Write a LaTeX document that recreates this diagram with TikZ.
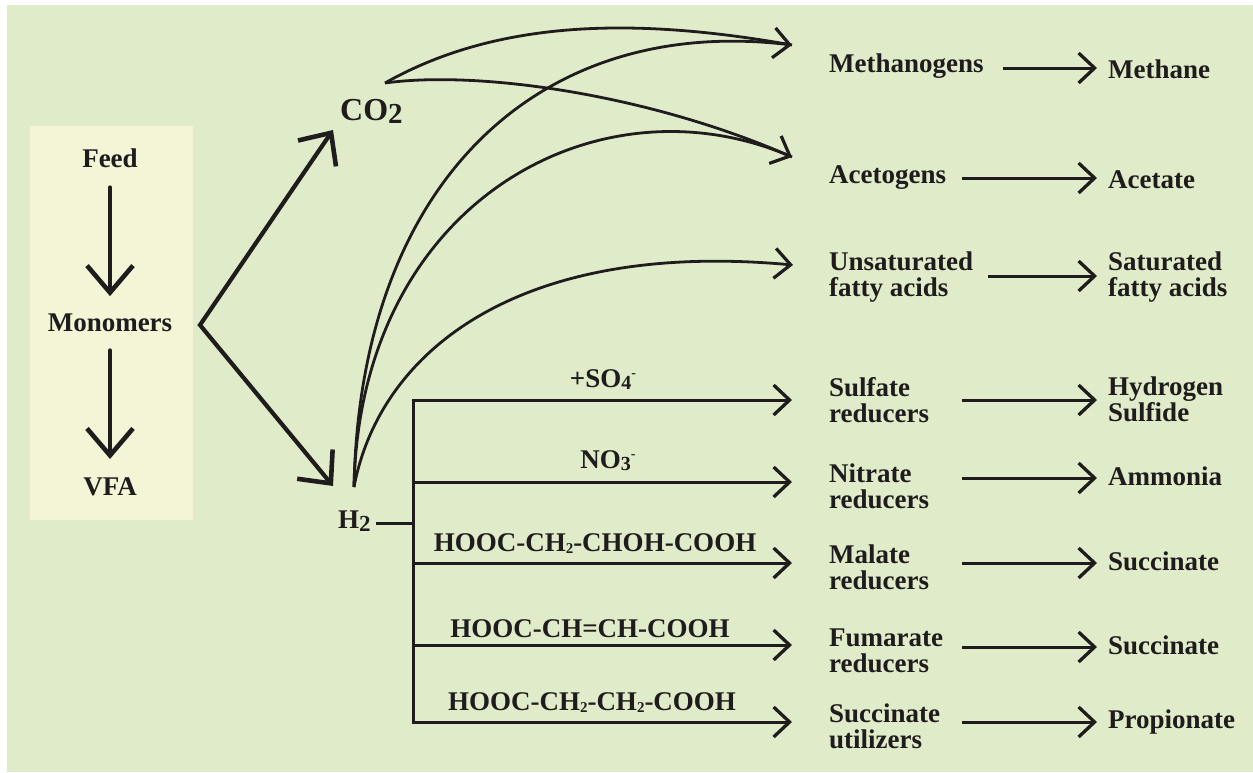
\documentclass[tikz,border=0pt]{standalone}
\usepackage{fontspec}
\setmainfont{Liberation Serif}
\usetikzlibrary{arrows.meta}
\definecolor{bgc}{RGB}{224,235,201}
\definecolor{boxc}{RGB}{243,245,214}
\definecolor{ink}{RGB}{30,28,28}
\newcommand{\subA}[1]{\raisebox{-3.5pt}{\fontsize{23}{23}\selectfont #1}}
\newcommand{\subC}[1]{\raisebox{-3.5pt}{\fontsize{29}{29}\selectfont #1}}
\newcommand{\subB}[1]{\raisebox{-2.5pt}{\fontsize{15}{15}\selectfont #1}}
\newcommand{\subD}[1]{\raisebox{-2pt}{\fontsize{20}{20}\selectfont #1}}
\newcommand{\supm}{\raisebox{10pt}{\fontsize{14}{14}\selectfont -}}
\tikzset{
  lbl/.style={font=\fontsize{27}{26}\selectfont\bfseries, text=ink, inner sep=0pt, align=left},
  sarr/.style={draw=ink, line width=3pt, -{Straight Barb[length=16pt,width=30pt,line width=3.3pt]}},
  varr/.style={draw=ink, line width=4.2pt, line cap=round, -{Straight Barb[length=27pt,width=46pt,line width=4.6pt]}},
  darr/.style={draw=ink, line width=4.2pt, line join=miter, arrows={Straight Barb[length=25pt,width=46pt,line width=4.6pt]-Straight Barb[length=25pt,width=46pt,line width=4.6pt]}},
  crv/.style={draw=ink, line width=2.8pt},
  crvarr/.style={draw=ink, line width=2.8pt, -{Straight Barb[length=16pt,width=30pt,line width=3.2pt]}},
  bus/.style={draw=ink, line width=3pt}
}
\begin{document}
\begin{tikzpicture}[x=1pt,y=-1pt]
\useasboundingbox (0,0) rectangle (1253,772);
\fill[white] (0,0) rectangle (1253,772);
\fill[bgc] (7,5) rectangle (1253,772);
\fill[boxc] (30,126) rectangle (193,520);

% left column
\node[lbl, anchor=base] (feed) at (110,167) {Feed};
\node[lbl, anchor=base] (mono) at (110,331) {Monomers};
\node[lbl, anchor=base] (vfa) at (110,495) {VFA};
\draw[varr] ([yshift=-20pt]feed.south) -- ([yshift=17pt]mono.north);
\draw[varr] ([yshift=-19pt]mono.south) -- ([yshift=18pt]vfa.north);

% CO2 and H2
\node[lbl, anchor=base west, font=\fontsize{32}{32}\selectfont\bfseries] (co2) at (340,120) {CO\subC{2}};
\node[lbl, anchor=base west] (h2) at (338,528) {H\subA{2}};
\coordinate (apex) at (200,325);
\coordinate (co2tip) at (333,130);
\coordinate (h2tip) at (333,486);
\draw[darr] (co2tip) -- (apex) -- (h2tip);

% second column
\node[lbl, anchor=base west] (meth) at (829,72) {Methanogens};
\node[lbl, anchor=base west] (acet) at (829,183) {Acetogens};
\node[lbl, anchor=north west] (unsat) at (829,252) {Unsaturated\\fatty acids};
\node[lbl, anchor=north west] (sulf) at (829,377) {Sulfate\\reducers};
\node[lbl, anchor=north west] (nitr) at (829,464) {Nitrate\\reducers};
\node[lbl, anchor=north west] (mal) at (829,545) {Malate\\reducers};
\node[lbl, anchor=north west] (fum) at (829,629) {Fumarate\\reducers};
\node[lbl, anchor=north west] (sucu) at (829,704) {Succinate\\utilizers};

% third column
\node[lbl, anchor=base west] (methane) at (1108,78) {Methane};
\node[lbl, anchor=base west] (acetate) at (1108,188) {Acetate};
\node[lbl, anchor=north west] (sat) at (1108,252) {Saturated\\fatty acids};
\node[lbl, anchor=north west] (hs) at (1108,377) {Hydrogen\\Sulfide};
\node[lbl, anchor=base west] (amm) at (1108,485) {Ammonia};
\node[lbl, anchor=base west] (succ1) at (1108,570) {Succinate};
\node[lbl, anchor=base west] (succ2) at (1108,654) {Succinate};
\node[lbl, anchor=base west] (prop) at (1108,728) {Propionate};

% column 2 -> column 3 arrows
\coordinate (r1) at (1003,68);
\coordinate (r2) at (962,178);
\coordinate (r3) at (988,276);
\coordinate (r4) at (962,400);
\coordinate (r5) at (962,478);
\coordinate (r6) at (962,563);
\coordinate (r7) at (962,647);
\coordinate (r8) at (962,722);
\draw[sarr, shorten >=11pt] (r1) -- (r1 -| methane.west);
\draw[sarr, shorten >=11pt] (r2) -- (r2 -| acetate.west);
\draw[sarr, shorten >=11pt] (r3) -- (r3 -| sat.west);
\draw[sarr, shorten >=11pt] (r4) -- (r4 -| hs.west);
\draw[sarr, shorten >=11pt] (r5) -- (r5 -| amm.west);
\draw[sarr, shorten >=11pt] (r6) -- (r6 -| succ1.west);
\draw[sarr, shorten >=11pt] (r7) -- (r7 -| succ2.west);
\draw[sarr, shorten >=11pt] (r8) -- (r8 -| prop.west);

% H2 bus
\coordinate (b1) at (413,400);
\coordinate (b2) at (413,482);
\coordinate (b3) at (413,563);
\coordinate (b4) at (413,645);
\coordinate (b5) at (413,722);
\coordinate (hy) at (0,523);
\draw[bus] ([xshift=5pt]h2.east |- hy) -- (b3 |- hy);
\draw[bus, line cap=rect] (b1) -- (b5);
\draw[sarr, shorten >=37pt] (b1) -- (b1 -| sulf.west);
\draw[sarr, shorten >=37pt] (b2) -- (b2 -| nitr.west);
\draw[sarr, shorten >=37pt] (b3) -- (b3 -| mal.west);
\draw[sarr, shorten >=37pt] (b4) -- (b4 -| fum.west);
\draw[sarr, shorten >=37pt] (b5) -- (b5 -| sucu.west);

% labels on bus arrows
\node[lbl, anchor=base] (lso4) at (603,387) {+SO\subD{4}\supm};
\node[lbl, anchor=base] (lno3) at (608,468) {NO\subD{3}\supm};
\node[lbl, anchor=base] (lmal) at (595,551) {HOOC-CH\subB{2}-CHOH-COOH};
\node[lbl, anchor=base] (lfum) at (590,637) {HOOC-CH=CH-COOH};
\node[lbl, anchor=base] (lsuc) at (592,710) {HOOC-CH\subB{2}-CH\subB{2}-COOH};

% curves
\coordinate (co2o) at (385,83);
\coordinate (h2o) at (354,487);
\coordinate (mtip) at (792,45);
\coordinate (atip) at (792,157);
\coordinate (utip) at (793,265);
\draw[crv] (co2o) .. controls (500,18) and (640,18) .. (mtip);
\draw[crvarr] (h2o) .. controls (360,180) and (540,15) .. (mtip);
\draw[crvarr] (co2o) .. controls (480,70) and (650,95) .. (atip);
\draw[crv] (h2o) .. controls (360,200) and (600,73) .. (atip);
\draw[crvarr] (h2o) .. controls (380,350) and (520,240) .. (utip);
\end{tikzpicture}
\end{document}
